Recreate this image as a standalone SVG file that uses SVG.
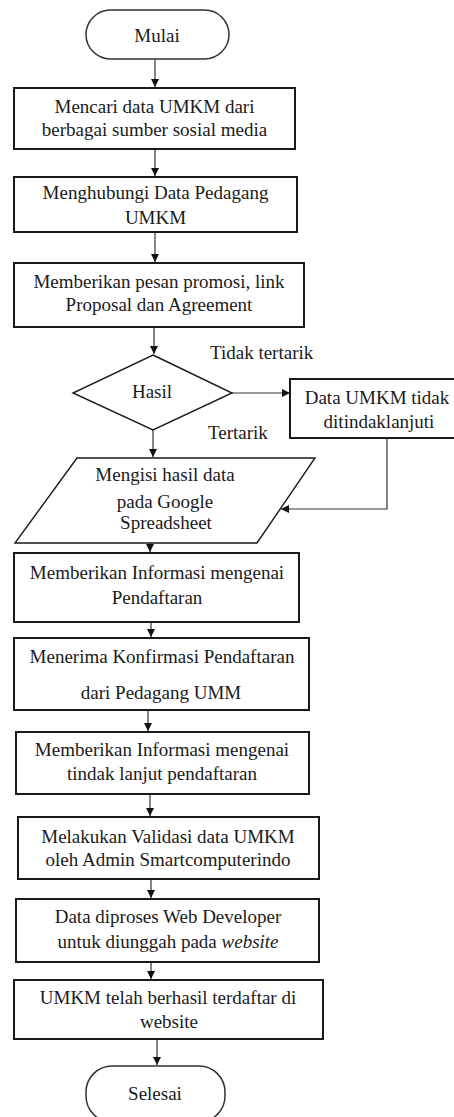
<svg xmlns="http://www.w3.org/2000/svg" width="454" height="1117" viewBox="0 0 454 1117">
<style>
text{font-size:19px;fill:#1a1a1a;text-anchor:middle}
.box{fill:#fff;stroke:#1a1a1a;stroke-width:2}
.term{fill:#fff;stroke:#333;stroke-width:1.5}
.dec{fill:#fff;stroke:#1a1a1a;stroke-width:1.4}
.con{fill:none;stroke:#333;stroke-width:1.2;marker-end:url(#ah)}
.lbl{text-anchor:start}
</style>
<defs>
<marker id="ah" markerUnits="userSpaceOnUse" markerWidth="10" markerHeight="10" refX="8" refY="4" orient="auto">
<path d="M0,0 L8,4 L0,8 Z" fill="#111"/>
</marker>
</defs>
<g font-family="'Liberation Serif', 'DejaVu Serif', serif">
<g id="connectors">
<line class="con" x1="155" y1="59" x2="155" y2="87"/>
<line class="con" x1="155" y1="149" x2="155" y2="176"/>
<line class="con" x1="155" y1="232" x2="155" y2="262"/>
<line class="con" x1="154" y1="327" x2="154" y2="354"/>
<line class="con" x1="232" y1="393" x2="290" y2="393"/>
<line class="con" x1="153" y1="430" x2="153" y2="457"/>
<polyline class="con" points="387,438 387,509 281,509"/>
<line class="con" x1="150" y1="543" x2="150" y2="552"/>
<line class="con" x1="151" y1="622" x2="151" y2="637"/>
<line class="con" x1="148" y1="710" x2="148" y2="731"/>
<line class="con" x1="150" y1="794" x2="150" y2="816"/>
<line class="con" x1="151" y1="879" x2="151" y2="898"/>
<line class="con" x1="151" y1="962" x2="151" y2="979"/>
<line class="con" x1="157" y1="1039" x2="157" y2="1065"/>
<text class="lbl" x="210" y="359">Tidak tertarik</text>
<text class="lbl" x="208" y="439">Tertarik</text>
</g>
<g id="mulai">
<rect class="term" x="86" y="10" width="143" height="49" rx="24.5"/>
<text x="157" y="42">Mulai</text>
</g>
<g id="mencari">
<rect class="box" x="14" y="88" width="281" height="61"/>
<text x="154.5" y="113">Mencari data UMKM dari</text>
<text x="154.5" y="136">berbagai sumber sosial media</text>
</g>
<g id="menghubungi">
<rect class="box" x="14" y="177" width="283" height="55"/>
<text x="155.5" y="199">Menghubungi Data Pedagang</text>
<text x="155.5" y="224">UMKM</text>
</g>
<g id="promosi">
<rect class="box" x="14" y="263" width="290" height="64"/>
<text x="159" y="288">Memberikan pesan promosi, link</text>
<text x="159" y="311">Proposal dan Agreement</text>
</g>
<g id="hasil">
<polygon class="dec" points="153,355 232,393 153,430 73,393"/>
<text x="152" y="398">Hasil</text>
</g>
<g id="tidak-lanjut">
<rect class="box" x="290" y="379" width="170" height="59"/>
<text x="377" y="404">Data UMKM tidak</text>
<text x="379" y="428">ditindaklanjuti</text>
</g>
<g id="spreadsheet">
<polygon class="dec" points="77,458 315,458 257,543 15,543"/>
<text x="165" y="481">Mengisi hasil data</text>
<text x="165" y="508">pada Google</text>
<text x="166" y="529">Spreadsheet</text>
</g>
<g id="info-pendaftaran">
<rect class="box" x="14" y="553" width="285" height="69"/>
<text x="157" y="579">Memberikan Informasi mengenai</text>
<text x="157" y="604">Pendaftaran</text>
</g>
<g id="konfirmasi">
<rect class="box" x="14" y="638" width="295" height="72"/>
<text x="162" y="663">Menerima Konfirmasi Pendaftaran</text>
<text x="161" y="699">dari Pedagang UMM</text>
</g>
<g id="tindak-lanjut">
<rect class="box" x="16" y="732" width="293" height="62"/>
<text x="162" y="756">Memberikan Informasi mengenai</text>
<text x="162" y="780">tindak lanjut pendaftaran</text>
</g>
<g id="validasi">
<rect class="box" x="18" y="817" width="301" height="62"/>
<text x="168" y="843">Melakukan Validasi data UMKM</text>
<text x="168" y="866">oleh Admin Smartcomputerindo</text>
</g>
<g id="diproses">
<rect class="box" x="16" y="899" width="303" height="63"/>
<text x="168" y="923">Data diproses Web Developer</text>
<text x="168" y="948">untuk diunggah pada <tspan font-style="italic">website</tspan></text>
</g>
<g id="terdaftar">
<rect class="box" x="14" y="980" width="309" height="59"/>
<text x="168" y="1004">UMKM telah berhasil terdaftar di</text>
<text x="169" y="1028">website</text>
</g>
<g id="selesai">
<rect class="term" x="86" y="1066" width="139" height="56" rx="26"/>
<text x="155" y="1100">Selesai</text>
</g>
</g>
</svg>
